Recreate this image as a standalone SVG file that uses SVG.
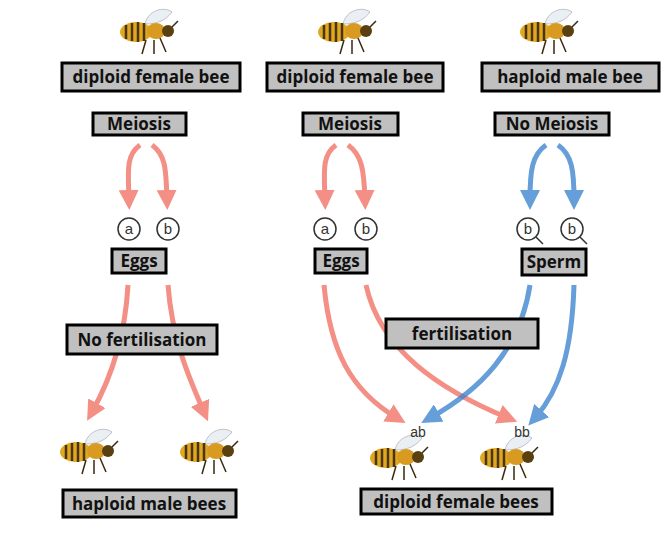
<svg xmlns="http://www.w3.org/2000/svg" width="668" height="540" viewBox="0 0 668 540">
<defs>
<marker id="mr" markerWidth="4" markerHeight="4" refX="2" refY="2" orient="auto" markerUnits="strokeWidth"><path d="M0,0 L4,2 L0,4 Z" fill="#ef6a5c"/></marker>
<marker id="mb" markerWidth="4" markerHeight="4" refX="2" refY="2" orient="auto" markerUnits="strokeWidth"><path d="M0,0 L4,2 L0,4 Z" fill="#3f86cf"/></marker>
<g id="bee">
<path d="M-5,-8 C-2,-22 14,-26 22,-20 C16,-12 8,-8 -5,-8 Z" fill="#e8eef2" stroke="#aab" stroke-width="0.8" opacity="0.9"/>
<ellipse cx="-14" cy="0" rx="16" ry="10" fill="#e0a820"/>
<path d="M-24,-7 v14 M-18,-9 v18 M-12,-10 v20 M-6,-9 v18" stroke="#4a3510" stroke-width="2.5"/>
<ellipse cx="6" cy="-1" rx="9" ry="8" fill="#d89a20"/>
<circle cx="18" cy="-1" r="6" fill="#5a4010"/>
<path d="M-4,8 l-4,14 M4,8 l0,14 M10,6 l6,14 M22,-5 l6,-6" stroke="#3a2a10" stroke-width="1.5" fill="none"/>
</g>
</defs>
<style>
.lb rect{fill:#c0c0c0;stroke:#000;stroke-width:3}
.lb text{font-family:"Open Sans","DejaVu Sans",sans-serif;font-weight:bold;font-size:17px;text-anchor:middle;fill:#111}
.c circle{fill:#fff;stroke:#333;stroke-width:1.5}
.c text{font-family:"Liberation Sans",sans-serif;font-size:15px;text-anchor:middle;fill:#333}
.r{fill:none;stroke:#ef6a5c;stroke-width:5;opacity:0.75;marker-end:url(#mr)}
.b{fill:none;stroke:#3f86cf;stroke-width:5;opacity:0.8;marker-end:url(#mb)}
.g{font-family:"Liberation Sans",sans-serif;font-size:14px;fill:#333;text-anchor:middle}
</style>
<rect width="668" height="540" fill="#fff"/>
<g id="connectors">
<path class="r" d="M140,145 C126,155 128,170 129,200"/>
<path class="r" d="M152,145 C166,155 166,170 167,200"/>
<path class="r" d="M336,145 C322,155 324,170 325,200"/>
<path class="r" d="M348,145 C362,155 364,170 365,200"/>
<path class="b" d="M546,145 C532,155 530,170 530,200"/>
<path class="b" d="M558,145 C572,155 574,170 574,200"/>
<path class="r" d="M128,285 C125,340 110,380 92,412"/>
<path class="r" d="M168,285 C172,340 190,380 204,412"/>
<path class="r" d="M324,285 C330,350 350,390 397,418"/>
<path class="r" d="M366,285 C380,350 440,390 508,418"/>
<path class="b" d="M530,285 C520,350 480,390 430,418"/>
<path class="b" d="M574,285 C572,350 560,390 535,418"/>
</g>
<use href="#bee" x="150" y="32"/>
<use href="#bee" x="348" y="32"/>
<use href="#bee" x="550" y="32"/>
<use href="#bee" x="90" y="452"/>
<use href="#bee" x="210" y="452"/>
<use href="#bee" x="400" y="458"/>
<use href="#bee" x="510" y="458"/>
<text class="g" x="418" y="437">ab</text>
<text class="g" x="522" y="437">bb</text>
<g class="c" id="eggs1"><circle cx="129" cy="229" r="11"/><text x="129" y="234">a</text><circle cx="168" cy="229" r="11"/><text x="168" y="234">b</text></g>
<g class="c" id="eggs2"><circle cx="325" cy="229" r="11"/><text x="325" y="234">a</text><circle cx="366" cy="229" r="11"/><text x="366" y="234">b</text></g>
<g class="c" id="sperm"><circle cx="528" cy="229" r="11"/><text x="528" y="234">b</text><path d="M536,237 l7,7" stroke="#333" stroke-width="1.5"/><circle cx="572" cy="229" r="11"/><text x="572" y="234">b</text><path d="M580,237 l7,7" stroke="#333" stroke-width="1.5"/></g>
<g class="lb" id="l1"><rect x="62" y="63" width="178" height="28"/><text x="151" y="83">diploid female bee</text></g>
<g class="lb" id="l2"><rect x="93" y="113" width="93" height="22"/><text x="139" y="130">Meiosis</text></g>
<g class="lb" id="l3"><rect x="112" y="249" width="54" height="24"/><text x="139" y="267">Eggs</text></g>
<g class="lb" id="l4"><rect x="67" y="325" width="150" height="29"/><text x="142" y="346">No fertilisation</text></g>
<g class="lb" id="l5"><rect x="63" y="490" width="173" height="27"/><text x="149" y="510">haploid male bees</text></g>
<g class="lb" id="l6"><rect x="267" y="63" width="176" height="28"/><text x="355" y="83">diploid female bee</text></g>
<g class="lb" id="l7"><rect x="303" y="113" width="95" height="22"/><text x="350" y="130">Meiosis</text></g>
<g class="lb" id="l8"><rect x="315" y="249" width="52" height="24"/><text x="341" y="267">Eggs</text></g>
<g class="lb" id="l9"><rect x="482" y="63" width="177" height="28"/><text x="570" y="83">haploid male bee</text></g>
<g class="lb" id="l10"><rect x="495" y="113" width="114" height="22"/><text x="552" y="130">No Meiosis</text></g>
<g class="lb" id="l11"><rect x="522" y="249" width="64" height="26"/><text x="554" y="268">Sperm</text></g>
<g class="lb" id="l12"><rect x="386" y="319" width="152" height="29"/><text x="462" y="340">fertilisation</text></g>
<g class="lb" id="l13"><rect x="361" y="489" width="191" height="25"/><text x="456" y="508">diploid female bees</text></g>
</svg>
